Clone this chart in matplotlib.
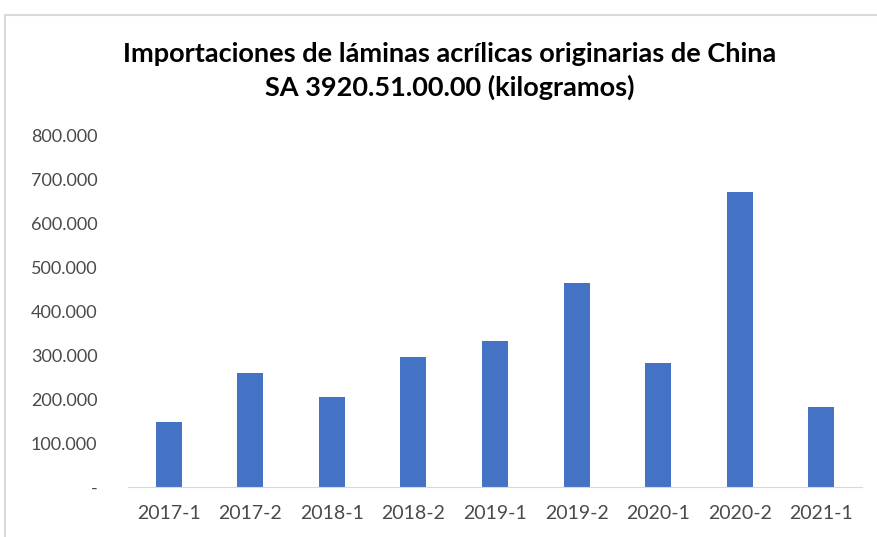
import matplotlib
matplotlib.use("Agg")
import matplotlib.pyplot as plt
from matplotlib.ticker import FuncFormatter
from matplotlib.patches import Rectangle

periodos = ["2017-1", "2017-2", "2018-1", "2018-2", "2019-1", "2019-2", "2020-1", "2020-2", "2021-1"]
kilogramos = [148000, 259000, 205000, 295000, 332000, 464000, 282000, 670000, 182000]
titulo = "Importaciones de láminas acrílicas originarias de China\nSA 3920.51.00.00 (kilogramos)"

plt.rcParams['font.family'] = ['Lato', 'DejaVu Sans']

fig = plt.figure(figsize=(8.77, 5.37), dpi=100)
W, H = 877, 537

# marco del grafico
fig.patches.append(Rectangle((5 / W, -0.1), 1.0, (H - 15) / H + 0.1, transform=fig.transFigure,
                             fill=False, edgecolor="#D9D9D9", linewidth=1.5))

ax = fig.add_axes([128 / W, 50 / H, (862 - 128) / W, (487 - 135) / H])
ax.bar(range(len(periodos)), kilogramos, width=0.32, color="#4472C4")
ax.set_xlim(-0.5, len(periodos) - 0.5)
ax.set_ylim(0, 800000)
ax.set_yticks(range(0, 800001, 100000))
ax.set_xticks(range(len(periodos)))
ax.set_xticklabels(periodos)


def miles(v, pos):
    if v == 0:
        return "-"
    return "{:,.0f}".format(v).replace(",", ".")


ax.yaxis.set_major_formatter(FuncFormatter(miles))
for s in ["top", "right", "left"]:
    ax.spines[s].set_visible(False)
ax.spines["bottom"].set_color("#D9D9D9")
ax.tick_params(axis="both", length=0, colors="#4a4a4a")
ax.tick_params(axis="y", pad=22, labelsize=13)
ax.tick_params(axis="x", pad=13, labelsize=14)

fig.text(0.513, (H - 71) / H, titulo, ha="center", va="center", fontsize=19.5,
         fontweight="bold", color="#000000", linespacing=1.45)

fig.savefig("out.png", dpi=100)
